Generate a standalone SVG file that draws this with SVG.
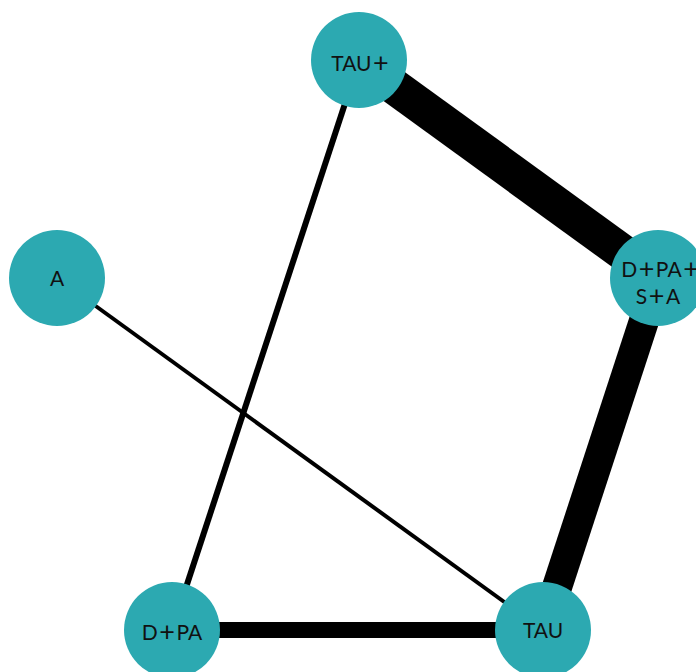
<svg xmlns="http://www.w3.org/2000/svg" width="696" height="672" viewBox="0 0 696 672">
<style>
.edge{stroke:#000;fill:none}
.node circle{fill:#2CA9B1}
.node text{font-family:Lato,"Open Sans","Liberation Sans",sans-serif;font-size:21px;fill:#111;text-anchor:middle}
.p{font-size:27px}
</style>
<rect width="696" height="672" fill="#fff"/>
<g id="edges">
<line class="edge" x1="359" y1="61" x2="658" y2="278" stroke-width="36"/>
<line class="edge" x1="658" y1="278" x2="543" y2="630" stroke-width="30"/>
<line class="edge" x1="172" y1="630" x2="543" y2="630" stroke-width="16"/>
<line class="edge" x1="359" y1="61" x2="172" y2="630" stroke-width="6"/>
<line class="edge" x1="57" y1="278" x2="543" y2="630" stroke-width="4"/>
</g>
<g id="node-tauplus" class="node"><circle cx="359" cy="60" r="48"/><text x="360" y="71">TAU<tspan class="p" dx="1.5" dy="1">+</tspan></text></g>
<g id="node-a" class="node"><circle cx="57" cy="278" r="48"/><text x="57" y="286">A</text></g>
<g id="node-dpasa" class="node"><circle cx="658" cy="278" r="48"/><text x="660" y="277">D<tspan class="p" dx="1.5" dy="1">+</tspan><tspan dx="1.5" dy="-1">PA</tspan><tspan class="p" dx="1.5" dy="1">+</tspan></text><text x="658" y="303.5">S<tspan class="p" dx="1.5" dy="1">+</tspan><tspan dx="1.5" dy="-1">A</tspan></text></g>
<g id="node-dpa" class="node"><circle cx="172" cy="630" r="48"/><text x="172" y="640">D<tspan class="p" dx="1.5" dy="1">+</tspan><tspan dx="1.5" dy="-1">PA</tspan></text></g>
<g id="node-tau" class="node"><circle cx="543" cy="630" r="48"/><text x="543" y="638">TAU</text></g>
</svg>
